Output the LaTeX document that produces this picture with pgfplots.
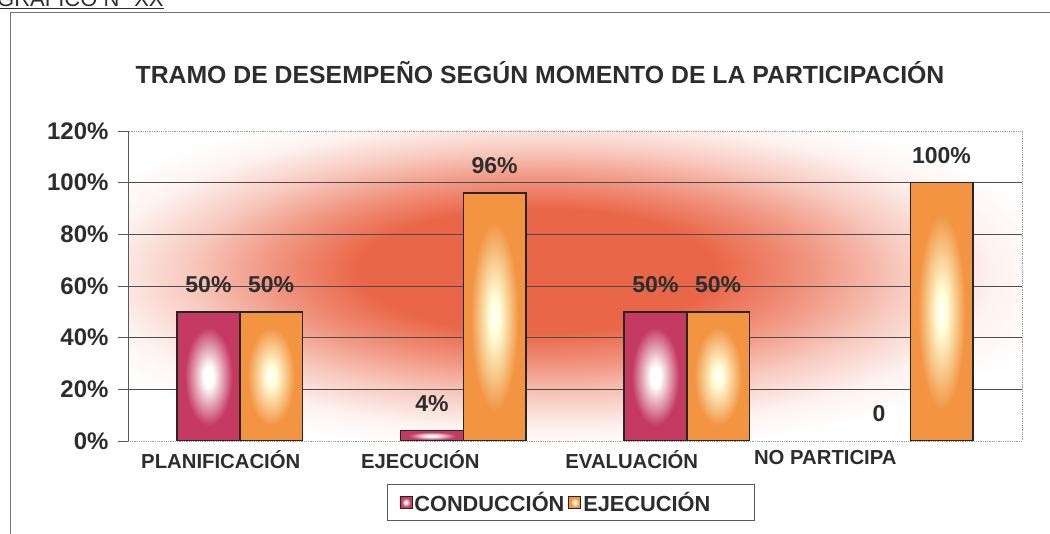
\documentclass[border=0pt]{standalone}
\usepackage{pgfplots}
\pgfplotsset{compat=1.18}
\usepackage{fontspec}
\setmainfont{Liberation Sans}

\definecolor{bgred}{RGB}{234,102,72}
\definecolor{condc}{RGB}{196,58,98}
\definecolor{ejecc}{RGB}{242,148,66}
\definecolor{txt}{RGB}{45,45,45}

% fondo del area de trazado y relleno de las barras
\pgfdeclareradialshading{bgshade}{\pgfpoint{-2.5bp}{3bp}}{color(0bp)=(bgred); color(10bp)=(bgred); color(15bp)=(bgred!70!white); color(20bp)=(bgred!35!white); color(25bp)=(bgred!8!white); color(29bp)=(white); color(60bp)=(white)}
\pgfdeclareradialshading{condshade}{\pgfpoint{0bp}{0bp}}{color(0bp)=(white); color(4bp)=(white); color(19bp)=(condc); color(50bp)=(condc)}
\pgfdeclareradialshading{ejecshade}{\pgfpoint{0bp}{0bp}}{color(0bp)=(white); color(4bp)=(white!85!yellow); color(19bp)=(ejecc); color(50bp)=(ejecc)}

\pgfplotsset{
  sqlegend/.style={legend image code/.code={\draw[##1, line width=0.8bp] (0bp,-6bp) rectangle (12bp,6bp);}},
  condbar/.style={draw=black!85, line width=1.5bp, shade, shading=condshade, bar shift=-0.14, sqlegend},
  ejecbar/.style={draw=black!85, line width=1.5bp, shade, shading=ejecshade, bar shift=0.14, sqlegend},
}

\begin{document}
\begin{tikzpicture}
\clip (0bp,0bp) rectangle (1050bp,534bp);
\draw[black!55, line width=0.8bp] (10bp,-5bp) -- (10bp,522bp) -- (1060bp,522bp);
\node[anchor=base west, inner sep=0, text=txt, font=\fontsize{22bp}{26bp}\selectfont] at (-3bp,527bp) {\underline{GRÁFICO N° XX}};
\node[anchor=base, inner sep=0, text=txt, font=\bfseries\fontsize{24.8bp}{28bp}\selectfont] at (540bp,450bp) {TRAMO DE DESEMPEÑO SEGÚN MOMENTO DE LA PARTICIPACIÓN};
\begin{axis}[
  at={(128bp,93bp)}, anchor=south west, scale only axis,
  width=894bp, height=310bp,
  xmin=-0.5, xmax=3.5, ymin=0, ymax=120,
  ytick={20,40,60,80,100},
  yticklabels={20\%,40\%,60\%,80\%,100\%},
  extra y ticks={0,120}, extra y tick labels={0\%,120\%},
  extra y tick style={grid=none},
  ymajorgrids, major grid style={black!70, line width=0.7bp},
  xtick={-0.085,0.808,1.754,2.62},
  xticklabels={PLANIFICACIÓN,EJECUCIÓN,EVALUACIÓN,NO PARTICIPA},
  x tick style={draw=none},
  ytick pos=left, tick align=outside, major tick length=10bp,
  y tick style={black!65, line width=0.8bp},
  xticklabel style={text=txt, yshift=4bp, font=\bfseries\fontsize{20.3bp}{24bp}\selectfont},
  yticklabel style={text=txt, xshift=-6bp, font=\bfseries\fontsize{24bp}{28bp}\selectfont},
  axis line style={black!40, densely dotted, line width=0.8bp},
  axis background/.style={shade, shading=bgshade},
  ybar=0pt, bar width=0.28,
  nodes near coords, point meta=explicit symbolic,
  every node near coord/.append style={anchor=center, yshift=27bp, text=txt, font=\bfseries\fontsize{23bp}{26bp}\selectfont},
  legend style={at={(0.4955,-0.198)}, anchor=center, legend columns=2,
    draw=black!65, line width=0.8bp, text=txt, inner xsep=12bp, inner ysep=6bp,
    font=\bfseries\fontsize{21.8bp}{24bp}\selectfont,
    /tikz/every even column/.append style={column sep=2bp}},
]
% CONDUCCION
\addplot[condbar] coordinates {(0,50) [50\%]};
\addlegendentry{CONDUCCIÓN}
\addplot[condbar, forget plot] coordinates {(1,4) [4\%]};
\addplot[condbar, forget plot] coordinates {(2,50) [50\%]};
\addplot[draw=none, fill=none, bar shift=-0.14, forget plot] coordinates {(3,0) [0]};
% EJECUCION
\addplot[ejecbar] coordinates {(0,50) [50\%]};
\addlegendentry{EJECUCIÓN\rule{30bp}{0pt}}
\addplot[ejecbar, forget plot] coordinates {(1,96) [96\%]};
\addplot[ejecbar, forget plot] coordinates {(2,50) [50\%]};
\addplot[ejecbar, forget plot] coordinates {(3,100) [100\%]};
\draw[black!65, line width=0.8bp] (rel axis cs:0,0) -- (rel axis cs:0,1);
\end{axis}
\end{tikzpicture}
\end{document}
